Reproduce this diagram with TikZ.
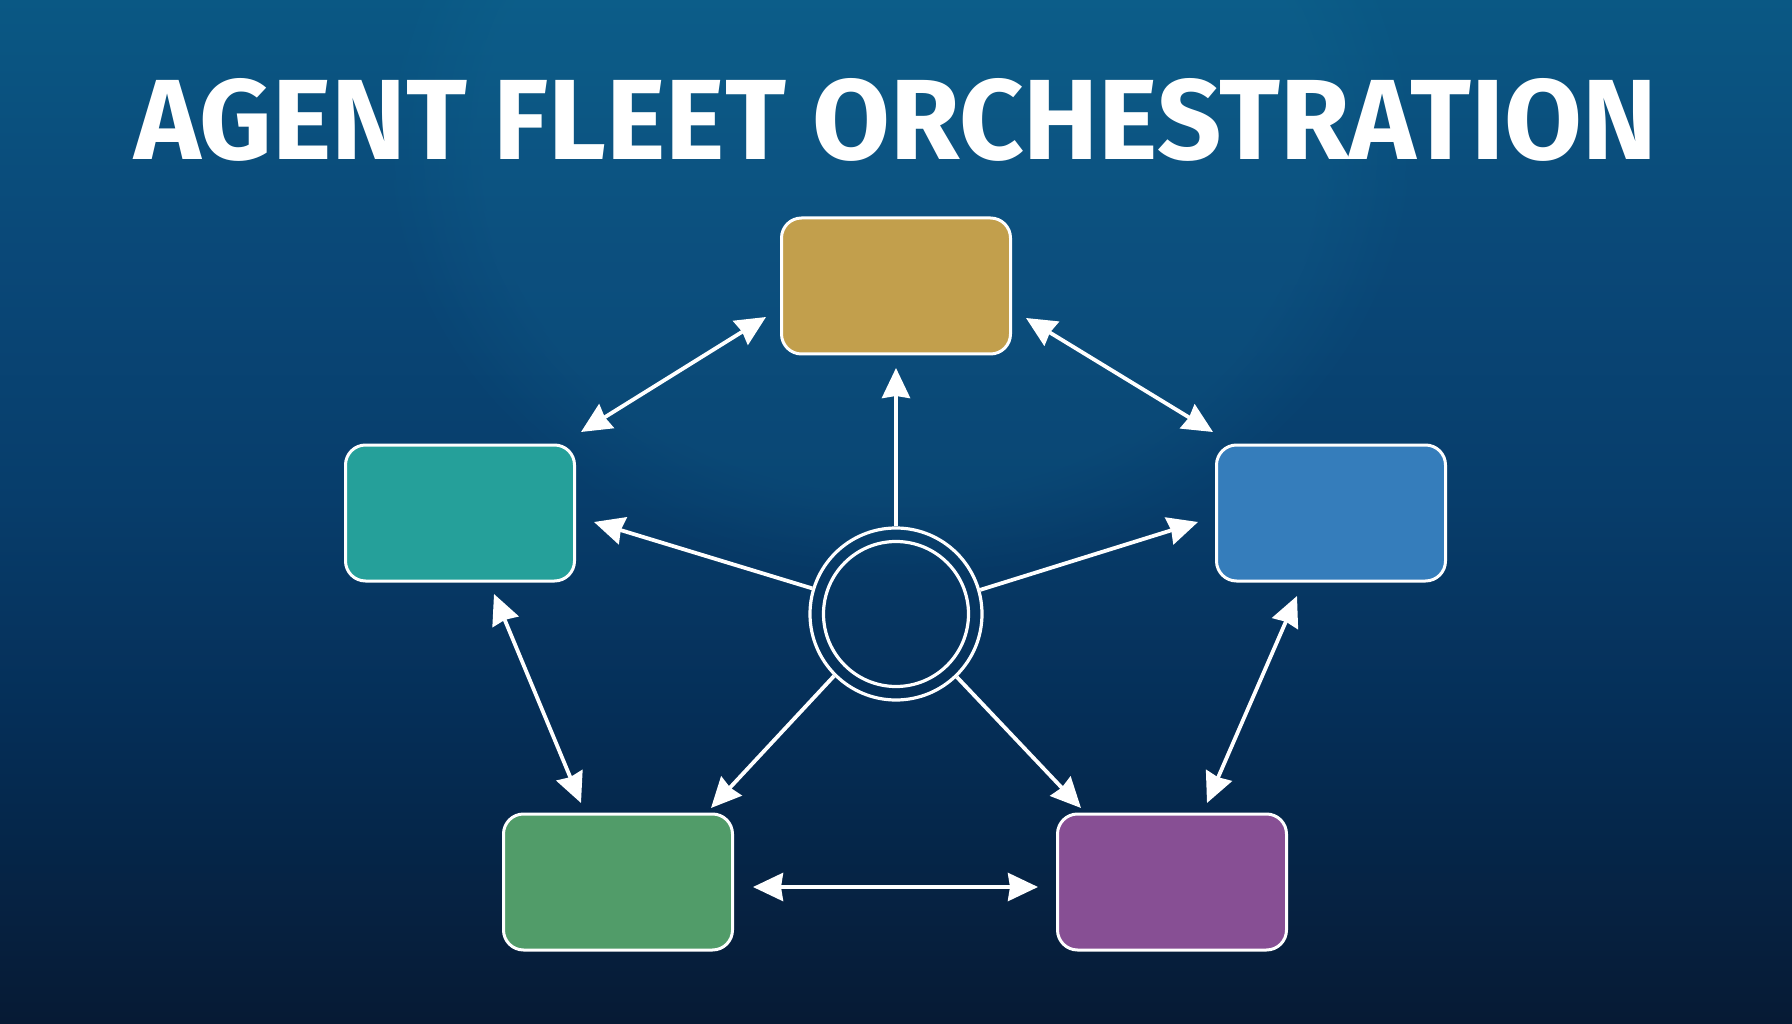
\documentclass[tikz,border=0pt]{standalone}
\usepackage{fontspec}
\setmainfont{Fira Sans}
\usetikzlibrary{arrows.meta,fadings,shapes.geometric}
\definecolor{bgtop}{HTML}{0A5884}
\definecolor{bgA}{HTML}{0A4878}
\definecolor{bgB}{HTML}{073D6B}
\definecolor{bgC}{HTML}{052E57}
\definecolor{bgbot}{HTML}{061A34}
\definecolor{glow}{HTML}{1A7FA8}
\definecolor{cgold}{HTML}{C29F4C}
\definecolor{cteal}{HTML}{25A09A}
\definecolor{cblue}{HTML}{357DBB}
\definecolor{cgreen}{HTML}{519C69}
\definecolor{cpurple}{HTML}{874F94}
\pgfdeclareverticalshading{bgshade}{100bp}{color(0bp)=(bgbot); color(25bp)=(bgbot); color(39.84bp)=(bgC); color(50.59bp)=(bgB); color(62.79bp)=(bgA); color(75bp)=(bgtop); color(100bp)=(bgtop)}
\tikzset{
  myhead/.tip={Stealth[length=30pt,width=28pt,inset=2pt]},
  agentbox/.style={draw=white, line width=3pt, rounded corners=20pt,
    minimum width=229pt, minimum height=136pt, inner sep=0pt},
  conn/.style={draw=white, line width=3.8pt, -myhead},
  dconn/.style={draw=white, line width=3.8pt, myhead-myhead},
  ring/.style={circle, draw=white, line width=3.2pt, inner sep=0pt}
}
\begin{document}
\begin{tikzpicture}[x=1pt,y=-1pt]
\useasboundingbox (0,0) rectangle (1792,1024);
\shade[shading=bgshade] (0,0) rectangle (1792,1024);
\fill[glow, opacity=0.14, path fading=circle with fuzzy edge 20 percent] (900,140) ellipse [x radius=520, y radius=440];
\node[anchor=north west, inner sep=0pt, text=white] (title) at (134,78)
  {\resizebox{1522pt}{81pt}{\bfseries AGENT FLEET ORCHESTRATION}};

\node[agentbox, fill=cgold]   (top)   at (896,286) {};
\node[agentbox, fill=cteal]   (left)  at (460,513) {};
\node[agentbox, fill=cblue]   (right) at (1331,513) {};
\node[agentbox, fill=cgreen]  (bl)    at (618,882) {};
\node[agentbox, fill=cpurple] (br)    at (1172,882) {};

\node[ring, minimum size=172pt] (hub) at (896,614) {};
\node[ring, minimum size=145pt] (hubin) at (896,614) {};

% arrow end points
\coordinate (eTop)   at (896,368);
\coordinate (eLeft)  at (594,522);
\coordinate (eRight) at (1198,522);
\coordinate (eBL)    at (711,808);
\coordinate (eBR)    at (1081,808);

\coordinate (tlA) at (581,432); \coordinate (tlB) at (766,317);
\coordinate (trA) at (1026,318); \coordinate (trB) at (1213,432);
\coordinate (lA) at (494,594); \coordinate (lB) at (581,803);
\coordinate (rA) at (1297,596); \coordinate (rB) at (1207,803);
\coordinate (bA) at (753,887); \coordinate (bB) at (1038,887);

\draw[conn] (hub.north) -- (eTop);
\draw[conn] (hub.163.6) -- (eLeft);
\draw[conn] (hub.16.4) -- (eRight);
\draw[conn] (hub.225.5) -- (eBL);
\draw[conn] (hub.314.5) -- (eBR);

\draw[dconn] (tlA) -- (tlB);
\draw[dconn] (trA) -- (trB);
\draw[dconn] (lA) -- (lB);
\draw[dconn] (rA) -- (rB);
\draw[dconn] (bA) -- (bB);
\end{tikzpicture}
\end{document}
